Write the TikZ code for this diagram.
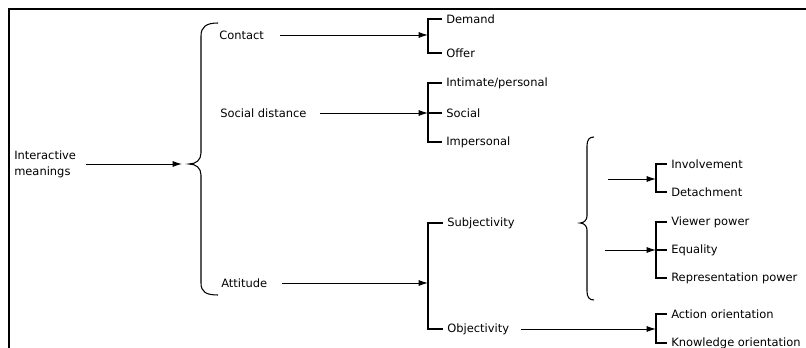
\documentclass[tikz,border=0pt]{standalone}
\usepackage{fontspec}
\setmainfont{DejaVu Sans}
\usetikzlibrary{arrows.meta}

\tikzset{
  lbl/.style={anchor=west, inner xsep=3pt, inner ysep=1pt, font=\fontsize{8.6}{12}\selectfont, align=left},
  feed/.style={-{Latex[length=7pt,width=4.5pt]}, line width=0.7pt},
  fork/.style={line width=0.8pt},
}

\begin{document}
\begin{tikzpicture}[x=0.75pt,y=0.75pt,yscale=-1,xscale=1]
\useasboundingbox (0,0) rectangle (806,348);

%Straight Lines [frame]
\draw [line width=2.2pt]  (9,348) -- (9,9) -- (806,9) ;

% Text Node
\node [lbl] (inter) at (10,164) {Interactive\\meanings};
% Text Node
\node [lbl] (contact) at (215,35) {Contact};
% Text Node
\node [lbl] (socdist) at (216,113) {Social distance};
% Text Node
\node [lbl] (attitude) at (217,283) {Attitude};
% Text Node
\node [lbl] (demand) at (442,19) {Demand};
% Text Node
\node [lbl] (offer) at (442,53) {Offer};
% Text Node
\node [lbl] (intimate) at (442,83) {Intimate/personal};
% Text Node
\node [lbl] (social) at (442,113) {Social};
% Text Node
\node [lbl] (impers) at (442,142) {Impersonal};
% Text Node
\node [lbl] (subj) at (443,223) {Subjectivity};
% Text Node
\node [lbl] (obj) at (443,329) {Objectivity};
% Text Node
\node [lbl] (involve) at (667,164) {Involvement};
% Text Node
\node [lbl] (detach) at (667,192) {Detachment};
% Text Node
\node [lbl] (viewer) at (667,222) {Viewer power};
% Text Node
\node [lbl] (equal) at (667,250) {Equality};
% Text Node
\node [lbl] (reprpow) at (667,278) {Representation power};
% Text Node
\node [lbl] (action) at (667,314) {Action orientation};
% Text Node
\node [lbl] (knowl) at (667,343) {Knowledge orientation};

% bracket points
\coordinate (mainin) at (182,164);
\coordinate (brA) at (428,35);
\coordinate (brB) at (428,113);
\coordinate (brC) at (428,283);
\coordinate (brD) at (656,179);
\coordinate (brE) at (656,250);
\coordinate (brF) at (656,329);
\coordinate (involvein) at (608,179);
\coordinate (equalin) at (605,250);

%Curve Lines [big brace]
\draw [fork]  (218,23) .. controls (206,23) and (201,27) .. (201,36) -- (201,153) .. controls (201,160) and (196,164) .. (189,164) .. controls (196,164) and (201,168) .. (201,175) -- (201,283) .. controls (201,292) and (206,295) .. (218,295) ;
%Curve Lines [subjectivity brace]
\draw [fork]  (594,137) .. controls (589,137) and (587,140) .. (587,146) -- (587,216) .. controls (587,220) and (584,223) .. (580,223) .. controls (584,223) and (587,226) .. (587,230) -- (587,291) .. controls (587,297) and (589,300) .. (594,300) ;

%Straight Lines [forks]
\draw [fork]  (demand.west) -| (brA) |- (offer.west) ;
\draw [fork]  (intimate.west) -| (brB) |- (impers.west) ;
\draw [fork]  (brB) -- (social.west) ;
\draw [fork]  (subj.west) -| (brC) |- (obj.west) ;
\draw [fork]  (involve.west) -| (brD) |- (detach.west) ;
\draw [fork]  (viewer.west) -| (brE) |- (reprpow.west) ;
\draw [fork]  (brE) -- (equal.west) ;
\draw [fork]  (action.west) -| (brF) |- (knowl.west) ;

%Straight Lines [arrows]
\draw [feed, shorten <=4pt]  (inter.east) -- (mainin) ;
\draw [feed, shorten <=9pt]  (contact.east) -- (contact.east -| brA) ;
\draw [feed, shorten <=7pt]  (socdist.east) -- (socdist.east -| brB) ;
\draw [feed, shorten <=8pt]  (attitude.east) -- (attitude.east -| brC) ;
\draw [feed, shorten <=6pt]  (obj.east) -- (obj.east -| brF) ;
\draw [feed]  (involvein) -- (brD) ;
\draw [feed]  (equalin) -- (brE) ;

\end{tikzpicture}
\end{document}
